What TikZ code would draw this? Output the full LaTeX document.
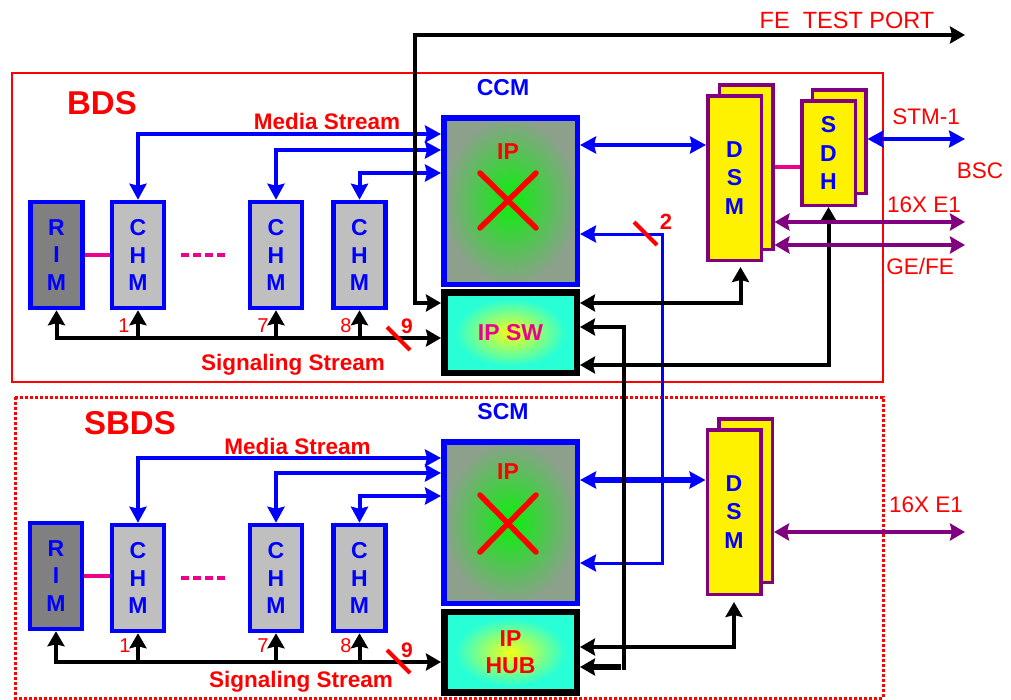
\documentclass[tikz,border=0pt]{standalone}
\usepackage{fontspec}
\setmainfont{Liberation Sans}
\usetikzlibrary{arrows.meta}

\definecolor{modpurple}{RGB}{128,0,128}
\definecolor{ipin}{RGB}{10,240,10}
\definecolor{ipout}{RGB}{140,160,140}
\definecolor{hubin}{RGB}{245,255,20}
\definecolor{hubout}{RGB}{40,255,215}
\pgfdeclareradialshading{ipglow}{\pgfpointorigin}{color(0bp)=(ipin); color(25bp)=(ipout); color(50bp)=(ipout)}
\pgfdeclareradialshading{hubglow}{\pgfpointorigin}{color(0bp)=(hubin); color(21bp)=(hubout); color(50bp)=(hubout)}

\tikzset{
  letterbox/.style={draw=blue, line width=4.5pt, inner sep=0pt, minimum width=52pt,
    minimum height=106pt, align=center, text=blue,
    font=\bfseries\fontsize{23}{27.5}\selectfont},
  rimbox/.style={letterbox, fill=gray},
  chmbox/.style={letterbox, fill=lightgray},
  ipbox/.style={draw=blue, line width=5.5pt, shade, shading=ipglow, minimum width=133.5pt},
  swbox/.style={draw=black, line width=6.5pt, shade, shading=hubglow, minimum width=132.5pt,
    minimum height=80.5pt, align=center, font=\bfseries\fontsize{23}{27}\selectfont},
  card/.style={draw=modpurple, line width=3.5pt, fill=yellow, inner sep=0pt, minimum width=53.5pt,
    align=center, text=blue, font=\bfseries\fontsize{23}{28.5}\selectfont},
  sig/.style={black, line width=4pt, >={Stealth[length=15pt,width=17pt,inset=2pt]}},
  media/.style={blue, line width=4pt, >={Stealth[length=16pt,width=17pt,inset=2pt]}},
  trunk/.style={modpurple, line width=4pt, >={Stealth[length=15pt,width=17pt,inset=2pt]}},
  xcross/.style={red, line width=5.5pt, line cap=round},
  slash/.style={red, line width=4pt},
  magline/.style={magenta, line width=3.5pt},
  title/.style={text=red, font=\bfseries\fontsize{33}{38}\selectfont},
  modname/.style={text=blue, font=\bfseries\fontsize{23}{27}\selectfont},
  iplbl/.style={text=red, font=\bfseries\fontsize{23}{27}\selectfont},
  streamlbl/.style={text=red, font=\bfseries\fontsize{22.5}{26}\selectfont},
  portlbl/.style={text=red, font=\fontsize{22.5}{26}\selectfont},
  numlbl/.style={text=red, inner sep=0pt, font=\fontsize{20}{24}\selectfont},
  bignum/.style={text=red, inner sep=0pt, font=\bfseries\fontsize{21}{25}\selectfont},
}

\begin{document}
\begin{tikzpicture}[x=1pt, y=-1pt]
  \useasboundingbox (0,0) rectangle (1011,699);

  % frames
  \draw[red, line width=2pt] (12,73) rectangle (883,382);
  \draw[red, line width=3pt, dash pattern=on 3pt off 2pt] (15,397) rectangle (883,698);
  \node[title] (bdsT) at (102,103) {BDS};
  \node[title] (sbdsT) at (130,423) {SBDS};

  % BDS side
  \node[rimbox] (rimA) at (56.5,255) {R\\I\\M};
  \node[chmbox] (chmA1) at (138,255) {C\\H\\M};
  \node[chmbox] (chmA7) at (276,255) {C\\H\\M};
  \node[chmbox] (chmA8) at (359.5,255) {C\\H\\M};
  \node[modname] (ccmT) at (503,88) {CCM};
  \node[ipbox, minimum height=166.5pt] (ipA) at (510.5,201) {};
  \node[iplbl] (ipAT) at (508,152) {IP};
  \draw[xcross] (480,173) -- (536,228) (536,173) -- (480,228);
  \node[swbox, text=magenta] (ipSW) at (510.5,332.5) {IP SW};
  \node[card, minimum height=164.5pt] (dsmAback) at (746,167) {};
  \node[card, minimum height=164.5pt] (dsmA) at (734.5,178) {D\\S\\M};
  \node[card, minimum height=103.5pt] (sdhBack) at (839,141.5) {};
  \node[card, minimum height=104.5pt] (sdh) at (828.5,153) {S\\D\\H};

  % SBDS side
  \node[rimbox] (rimB) at (56,576) {R\\I\\M};
  \node[chmbox] (chmB1) at (138,578) {C\\H\\M};
  \node[chmbox] (chmB7) at (276,578) {C\\H\\M};
  \node[chmbox] (chmB8) at (359.5,578) {C\\H\\M};
  \node[modname] (scmT) at (503,412) {SCM};
  \node[ipbox, minimum height=161.5pt] (ipB) at (510.5,522.5) {};
  \node[iplbl] (ipBT) at (508,472) {IP};
  \draw[xcross] (480,495) -- (536,552) (536,495) -- (480,552);
  \node[swbox, text=red] (ipHub) at (510.5,652) {IP\\HUB};
  \node[card, minimum height=163.5pt] (dsmBback) at (745.5,500.5) {};
  \node[card, minimum height=164.5pt] (dsmB) at (734,512) {D\\S\\M};

  % free ends
  \coordinate (fePort) at (965,35);
  \coordinate (bscEnd) at (965,139);
  \coordinate (e1A) at (965,222);
  \coordinate (geA) at (965,245);
  \coordinate (e1B) at (965,532);

  % media stream
  \draw[media,<->] (chmA1.north) |- (ipA.west |- 0,134);
  \draw[media,<->] (chmA7.north) |- (ipA.west |- 0,150);
  \draw[media,<->] (chmA8.north) |- (ipA.west |- 0,173);
  \draw[media,<->] (chmB1.north) |- (ipB.west |- 0,458);
  \draw[media,<->] (chmB7.north) |- (ipB.west |- 0,473);
  \draw[media,<->] (chmB8.north) |- (ipB.west |- 0,496);
  \node[streamlbl] (mediaA) at (327,121) {Media Stream};
  \node[streamlbl] (mediaB) at (297.5,446) {Media Stream};

  % signaling stream
  \draw[sig,<->] (rimA.south) |- (ipSW.west |- 0,338);
  \draw[sig,<->] (rimB.south) |- (ipHub.west |- 0,662);
  \foreach \m in {chmA1,chmA7,chmA8} {
    \draw[sig,->] (\m.south |- 0,338) -- (\m.south);
  }
  \foreach \m in {chmB1,chmB7,chmB8} {
    \draw[sig,->] (\m.south |- 0,662) -- (\m.south);
  }
  \node[streamlbl] (sigA) at (293,365) {Signaling Stream};
  \node[streamlbl] (sigB) at (301,682) {Signaling Stream};
  \node[numlbl] (nA1) at (124,326) {1};
  \node[numlbl] (nA7) at (263,326) {7};
  \node[numlbl] (nA8) at (346,326) {8};
  \node[numlbl] (nB1) at (125,646) {1};
  \node[numlbl] (nB7) at (263,646) {7};
  \node[numlbl] (nB8) at (346,646) {8};
  \draw[slash] (387,327) -- (410,350);
  \draw[slash] (387,650) -- (410,673);
  \node[bignum] (nineA) at (407,326) {9};
  \node[bignum] (nineB) at (407,650) {9};

  % magenta links
  \draw[magline] (rimA.east) -- (chmA1.west |- rimA.east);
  \draw[magline] (rimB.east) -- (chmB1.west |- rimB.east);
  \draw[magline, dash pattern=on 8pt off 4pt] (181,255) -- (228,255);
  \draw[magline, dash pattern=on 8pt off 4pt] (181,578) -- (228,578);
  \draw[magline] (dsmAback.east |- 0,167) -- (sdh.west |- 0,167);

  % CCM / SCM to DSM
  \draw[media,<->] (ipA.east |- 0,145) -- (dsmA.west |- 0,145);
  \draw[media,line width=6pt,<->] (ipB.east |- 0,480) -- (dsmB.west |- 0,480);
  \draw[media,line width=3pt,<->] (ipA.east |- 0,234) -| (662,563) -- (ipB.east |- 0,563);
  \draw[slash] (634,222) -- (657,245);
  \node[bignum, font=\bfseries\fontsize{22}{26}\selectfont] (twoT) at (666,222) {2};

  % switch links
  \draw[sig,<->,shorten >=5pt] (ipSW.east |- 0,303) -| ([xshift=6pt]dsmA.south);
  \draw[sig,<->] (ipSW.east |- 0,365) -| (sdh.south);
  \draw[sig,<->,shorten >=6pt] (ipHub.east |- 0,647) -| (dsmB.south);
  \draw[sig,<-] (ipSW.east |- 0,327) -| (624,670);
  \draw[sig,line width=6pt,->] (621,667) -- (ipHub.east |- 0,667);

  % test port
  \draw[sig,<->] (ipSW.west |- 0,303) -| (415,35) -- (fePort);
  \node[portlbl, font=\fontsize{23.5}{27}\selectfont] (feT) at (847,20) {FE~~TEST PORT};

  % trunks
  \draw[media,<->] (sdhBack.east |- bscEnd) -- (bscEnd);
  \draw[trunk,<->] (dsmAback.east |- e1A) -- (e1A);
  \draw[trunk,<->] (dsmAback.east |- geA) -- (geA);
  \draw[trunk,<->] (dsmBback.east |- e1B) -- (e1B);
  \node[portlbl] (stmT) at (926,117) {STM-1};
  \node[portlbl] (bscT) at (980,171) {BSC};
  \node[portlbl] (e1AT) at (924,205) {16X E1};
  \node[portlbl] (geT) at (920,266) {GE/FE};
  \node[portlbl] (e1BT) at (926,505) {16X E1};
\end{tikzpicture}
\end{document}
